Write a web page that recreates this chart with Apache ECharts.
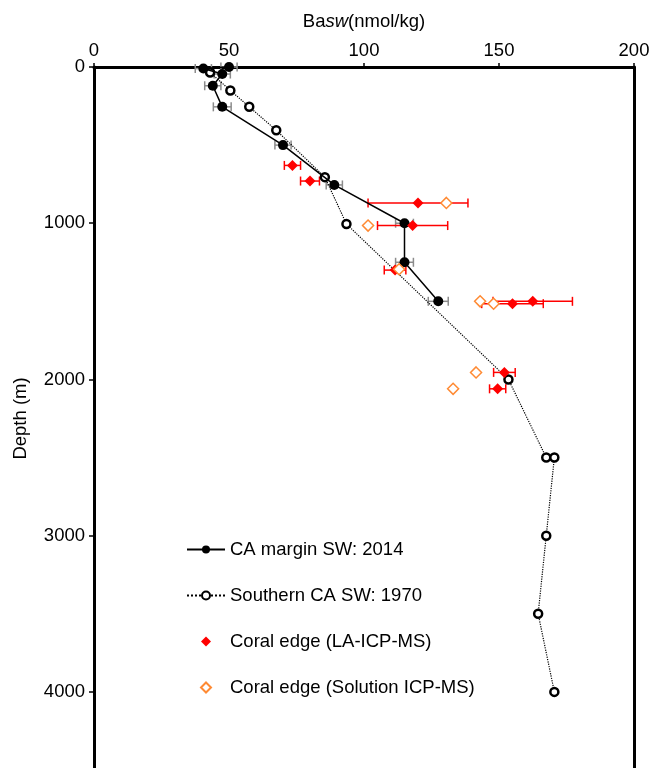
<html>
<head>
    <meta charset="utf-8">
    <title>Ba depth profile</title>
    <script src="https://cdn.jsdelivr.net/npm/echarts@6/dist/echarts.min.js"></script>
    <style>
        html, body { margin: 0; padding: 0; width: 649px; height: 768px; background: #fff; }
    </style>
</head>
<body>
    <div id="main" style="width: 649px; height: 768px;"></div>
    <script type="text/javascript">
        // CA margin seawater 2014 (filled circles, grey error bars)
        var ca2014Ba    = [50, 40.5, 47.5, 44, 47.5, 70, 89, 115, 115, 127.5];
        var ca2014Depth = [0, 10, 45, 120, 255, 500, 755, 1000, 1250, 1500];
        var ca2014Err   = [3, 3, 3, 3, 3.3, 3, 3, 3.3, 3.3, 3.7];

        // Southern CA seawater 1970 (open circles, dotted line)
        var socal1970Ba    = [43, 50.5, 57.5, 67.5, 85.5, 93.5, 153.5, 167.5, 170.5, 167.5, 164.5, 170.5];
        var socal1970Depth = [35, 150, 255, 405, 705, 1005, 2000, 2500, 2500, 3000, 3500, 4000];

        // Coral edge, LA-ICP-MS (red diamonds with error bars)
        var laBa    = [73.5, 80, 120, 118, 111.5, 162.5, 155, 152, 149.5];
        var laDepth = [630, 730, 870, 1015, 1300, 1500, 1515, 1955, 2060];
        var laErr   = [3, 3.5, 18.5, 13, 4, 14.7, 11.4, 4, 3];

        // Coral edge, solution ICP-MS (open orange diamonds)
        var solBa    = [130.5, 101.5, 113, 143, 148, 141.5, 133];
        var solDepth = [870, 1015, 1295, 1500, 1515, 1955, 2060];

        var xTicks = [0, 50, 100, 150, 200];
        var yTicks = [0, 1000, 2000, 3000, 4000];

        function pairs(xs, ys) {
            return xs.map(function (v, i) { return [v, ys[i]]; });
        }
        function triples(xs, ys, es) {
            return xs.map(function (v, i) { return [v, ys[i], es[i]]; });
        }

        // 误差棒
        function errorBars(color) {
            return function (params, api) {
                var x = api.value(0), y = api.value(1), e = api.value(2);
                var lo = api.coord([x - e, y]);
                var hi = api.coord([x + e, y]);
                var h = 4.5;
                var st = { stroke: color, lineWidth: 1.5 };
                return {
                    type: 'group',
                    children: [
                        { type: 'line', shape: { x1: lo[0], y1: lo[1], x2: hi[0], y2: hi[1] }, style: st },
                        { type: 'line', shape: { x1: lo[0], y1: lo[1] - h, x2: lo[0], y2: lo[1] + h }, style: st },
                        { type: 'line', shape: { x1: hi[0], y1: hi[1] - h, x2: hi[0], y2: hi[1] + h }, style: st }
                    ]
                };
            };
        }

        var font = 'Liberation Sans';
        var diamondIcon = 'path://M10,0 L20,10 L10,20 L0,10 Z';
        var myChart = echarts.init(document.getElementById('main'));

        var option = {
            backgroundColor: '#fff',
            animation: false,
            textStyle: { fontFamily: font },
            grid: { left: 94, top: 67, width: 540, height: 703, outerBoundsMode: 'none', containLabel: false },
            legend: {
                orient: 'vertical',
                left: 181,
                top: 535,
                padding: 5,
                itemWidth: 38,
                itemHeight: 10,
                itemGap: 27,
                symbolKeepAspect: true,
                textStyle: { fontFamily: font, fontSize: 18.5, color: '#000' },
                data: [
                    'CA margin SW: 2014',
                    'Southern CA SW: 1970',
                    { name: 'Coral edge (LA-ICP-MS)', icon: diamondIcon },
                    { name: 'Coral edge (Solution ICP-MS)', icon: diamondIcon }
                ]
            },
            xAxis: {
                type: 'value',
                position: 'top',
                min: xTicks[0],
                max: xTicks[xTicks.length - 1],
                interval: 50,
                name: '{n|Ba}{i|sw}{n|(nmol/kg)}',
                nameLocation: 'middle',
                nameGap: 36,
                nameTextStyle: {
                    rich: {
                        n: { fontFamily: font, fontSize: 18.5, color: '#000' },
                        i: { fontFamily: font, fontSize: 18.5, color: '#000', fontStyle: 'italic' }
                    }
                },
                axisLine: { lineStyle: { color: '#000', width: 3 } },
                axisTick: { inside: false, length: 4, lineStyle: { color: '#000', width: 1.5 } },
                axisLabel: { fontFamily: font, fontSize: 18.5, color: '#000', margin: 7 },
                splitLine: { show: false }
            },
            yAxis: [
                {
                    type: 'value',
                    inverse: true,
                    min: 0,
                    max: 4500,
                    interval: 1000,
                    name: 'Depth (m)',
                    nameLocation: 'middle',
                    nameGap: 64,
                    nameTextStyle: { fontFamily: font, fontSize: 18.5, color: '#000' },
                    axisLine: { lineStyle: { color: '#000', width: 3 } },
                    axisTick: { length: 5, lineStyle: { color: '#000', width: 1.5 } },
                    axisLabel: {
                        fontFamily: font, fontSize: 18.5, color: '#000', margin: 9,
                        formatter: function (v) { return yTicks.indexOf(v) >= 0 ? String(v) : ''; }
                    },
                    splitLine: { show: false }
                },
                {
                    type: 'value',
                    inverse: true,
                    position: 'right',
                    min: 0,
                    max: 4500,
                    interval: 1000,
                    axisLine: { show: true, lineStyle: { color: '#000', width: 3 } },
                    axisTick: { show: false },
                    axisLabel: { show: false },
                    splitLine: { show: false }
                }
            ],
            series: [
                {
                    type: 'custom',
                    name: 'err2014',
                    renderItem: errorBars('#8c8c8c'),
                    data: triples(ca2014Ba, ca2014Depth, ca2014Err),
                    clip: false,
                    z: 1
                },
                {
                    type: 'custom',
                    name: 'errLA',
                    renderItem: errorBars('#ff0000'),
                    data: triples(laBa, laDepth, laErr),
                    clip: false,
                    z: 1
                },
                {
                    name: 'Southern CA SW: 1970',
                    type: 'line',
                    data: pairs(socal1970Ba, socal1970Depth),
                    clip: false,
                    symbol: 'circle',
                    symbolSize: 8,
                    showAllSymbol: true,
                    lineStyle: { color: '#000', width: 1.2, type: 'dotted' },
                    itemStyle: { color: '#fff', borderColor: '#000', borderWidth: 2.5 },
                    z: 3
                },
                {
                    name: 'CA margin SW: 2014',
                    type: 'line',
                    data: pairs(ca2014Ba, ca2014Depth),
                    clip: false,
                    symbol: 'circle',
                    symbolSize: 10,
                    showAllSymbol: true,
                    lineStyle: { color: '#000', width: 1.5 },
                    itemStyle: { color: '#000' },
                    z: 4
                },
                {
                    name: 'Coral edge (LA-ICP-MS)',
                    type: 'scatter',
                    data: pairs(laBa, laDepth),
                    symbol: 'diamond',
                    symbolSize: 11,
                    itemStyle: { color: '#ff0000', opacity: 1 },
                    z: 5
                },
                {
                    name: 'Coral edge (Solution ICP-MS)',
                    type: 'scatter',
                    data: pairs(solBa, solDepth),
                    symbol: 'diamond',
                    symbolSize: 11,
                    itemStyle: { color: '#fff', borderColor: '#ff8a33', borderWidth: 1.5, opacity: 1 },
                    z: 6
                }
            ]
        };
        myChart.setOption(option);
    </script>
</body>
</html>
